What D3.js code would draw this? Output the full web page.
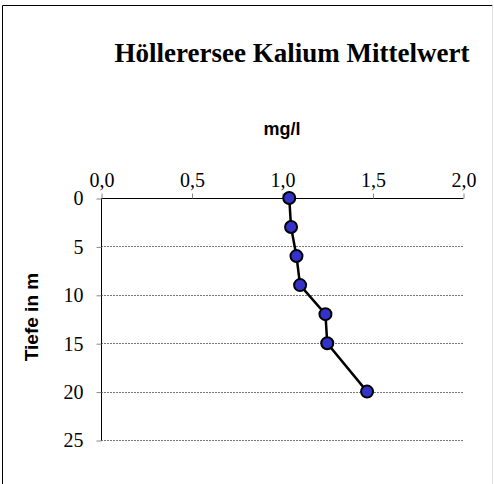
<!DOCTYPE html>
<html>
<head>
<meta charset="utf-8">
<script src="https://cdn.jsdelivr.net/npm/d3@7"></script>
<style>
  body { margin: 0; background: #fff; }
</style>
</head>
<body>
<div id="chart"></div>
<script>
// depth profile data (Tiefe in m vs. Kalium mg/l)
var depths = [0, 3, 6, 9, 12, 15, 20];
var kalium = [1.04, 1.05, 1.08, 1.10, 1.24, 1.25, 1.47];
var xTicks = [0, 0.5, 1.0, 1.5, 2.0];
var yTicks = [0, 5, 10, 15, 20, 25];

var width = 494;
var height = 484;
var plot = {"left": 101, "right": 463, "top": 198, "bottom": 440};

var svg = d3.select('#chart').append('svg')
    .attr('width', width)
    .attr('height', height);

// outer frame
svg.append('line').attr('x1', 2.5).attr('y1', 5.5).attr('x2', 492.5).attr('y2', 5.5)
    .style('stroke', 'black');
svg.append('line').attr('x1', 2.5).attr('y1', 5.5).attr('x2', 2.5).attr('y2', 484)
    .style('stroke', 'black');
svg.append('line').attr('x1', 492.5).attr('y1', 5.5).attr('x2', 492.5).attr('y2', 484)
    .style('stroke', '#ddd');

var x = d3.scaleLinear().domain([0, 2]).range([plot.left, plot.right]);
var y = d3.scaleLinear().domain([0, 25]).range([plot.top, plot.bottom]);

var fmt = function(d) { return d3.format('.1f')(d).replace('.', ','); };

// horizontal gridlines
svg.selectAll('.grid')
    .data(yTicks.filter(function(d) { return d > 0; }))
    .enter()
    .append('line')
    .attr('x1', plot.left)
    .attr('x2', plot.right)
    .attr('y1', function(d) { return Math.round(y(d)) + 0.5; })
    .attr('y2', function(d) { return Math.round(y(d)) + 0.5; })
    .style('stroke', '#777')
    .style('stroke-dasharray', '2,1');

// top x axis
var xAxis = svg.append('g')
    .attr('transform', 'translate(0.5,' + (plot.top + 0.5) + ')')
    .call(d3.axisTop(x).tickValues(xTicks).tickFormat(fmt).tickSize(5).tickPadding(7));

// left y axis
var yAxis = svg.append('g')
    .attr('transform', 'translate(' + (plot.left + 0.5) + ',0.5)')
    .call(d3.axisLeft(y).tickValues(yTicks).tickSize(5).tickPadding(13));

[xAxis, yAxis].forEach(function(a) {
    a.attr('font-size', null).attr('font-family', null);
    a.select('.domain').style('stroke', 'black');
    a.selectAll('.tick line').style('stroke', '#888');
    a.selectAll('.tick text')
        .style('font-family', '"Liberation Serif", "Times New Roman", serif')
        .style('font-size', '20px')
        .attr('fill', 'black');
});
yAxis.select('.domain').attr('d', 'M0,' + plot.top + 'V' + plot.bottom);
xAxis.select('.domain').attr('d', 'M' + plot.left + ',0H' + plot.right);

// line + markers
var points = depths.map(function(d, i) { return {"depth": d, "value": kalium[i]}; });

svg.append('path')
    .datum(points)
    .attr('d', d3.line()
        .x(function(d) { return x(d.value); })
        .y(function(d) { return y(d.depth); }))
    .style('fill', 'none')
    .style('stroke', 'black')
    .style('stroke-width', 2.5);

svg.selectAll('.dot')
    .data(points)
    .enter()
    .append('circle')
    .attr('cx', function(d) { return x(d.value); })
    .attr('cy', function(d) { return y(d.depth); })
    .attr('r', 6)
    .style('fill', '#3333cc')
    .style('stroke', 'black')
    .style('stroke-width', 2);

// titles
svg.append('text')
    .attr('x', 292)
    .attr('y', 62)
    .attr('text-anchor', 'middle')
    .attr('font-family', '"Liberation Serif", "Times New Roman", serif')
    .attr('font-weight', 'bold')
    .attr('font-size', '27px')
    .text('Höllerersee Kalium Mittelwert');

svg.append('text')
    .attr('x', 282)
    .attr('y', 135)
    .attr('text-anchor', 'middle')
    .attr('font-family', '"Liberation Sans", Arial, sans-serif')
    .attr('font-weight', 'bold')
    .attr('font-size', '18px')
    .text('mg/l');

svg.append('text')
    .attr('transform', 'translate(38,317) rotate(-90)')
    .attr('text-anchor', 'middle')
    .attr('font-family', '"Liberation Sans", Arial, sans-serif')
    .attr('font-weight', 'bold')
    .attr('font-size', '19px')
    .text('Tiefe in m');
</script>
</body>
</html>
